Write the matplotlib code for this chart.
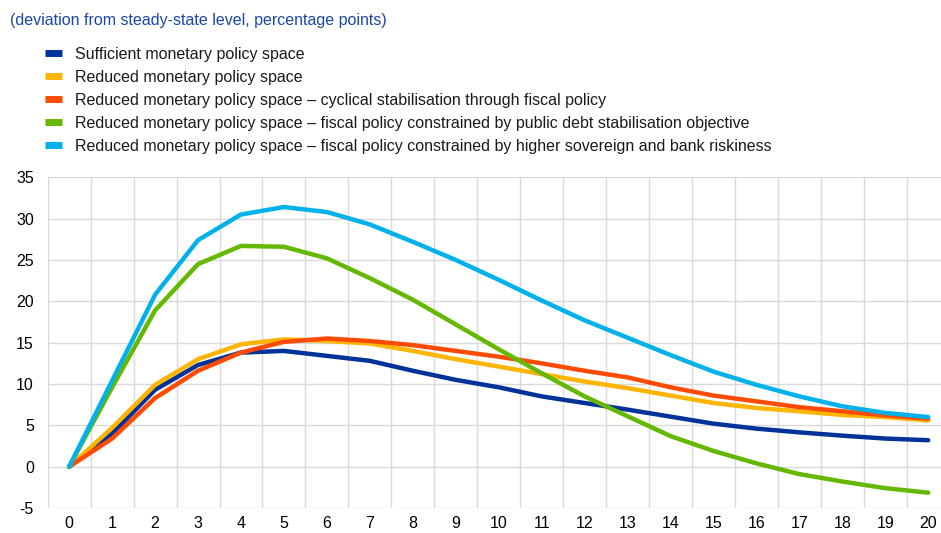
import matplotlib
matplotlib.use("Agg")
import matplotlib.pyplot as plt
from matplotlib.lines import Line2D

plt.rcParams['font.family'] = ['Liberation Sans', 'DejaVu Sans']
plt.rcParams['axes.unicode_minus'] = False

quarters = list(range(21))
x_labels = [str(q) for q in quarters]

sufficient = [0, 4.0, 9.3, 12.3, 13.8, 14.0, 13.4, 12.8, 11.6, 10.5, 9.6,
              8.5, 7.7, 6.9, 6.05, 5.2, 4.6, 4.15, 3.75, 3.4, 3.2]
reduced = [0, 4.7, 9.9, 13.0, 14.8, 15.4, 15.2, 14.9, 14.0, 13.0, 12.1,
           11.2, 10.3, 9.5, 8.6, 7.7, 7.1, 6.7, 6.25, 6.0, 5.6]
cyclical = [0, 3.4, 8.3, 11.6, 13.8, 15.1, 15.5, 15.2, 14.7, 14.0, 13.3,
            12.5, 11.6, 10.8, 9.6, 8.6, 7.9, 7.2, 6.7, 6.2, 5.8]
debt_constrained = [0, 9.6, 18.9, 24.5, 26.7, 26.6, 25.2, 22.8, 20.2, 17.2, 14.2,
                    11.3, 8.5, 6.1, 3.7, 1.9, 0.4, -0.9, -1.8, -2.6, -3.15]
risk_constrained = [0, 10.4, 20.8, 27.4, 30.5, 31.4, 30.8, 29.3, 27.2, 25.0, 22.6,
                    20.1, 17.7, 15.6, 13.5, 11.5, 9.9, 8.5, 7.3, 6.5, 6.0]

series_labels = [
    "Sufficient monetary policy space",
    "Reduced monetary policy space",
    "Reduced monetary policy space \u2013 cyclical stabilisation through fiscal policy",
    "Reduced monetary policy space \u2013 fiscal policy constrained by public debt stabilisation objective",
    "Reduced monetary policy space \u2013 fiscal policy constrained by higher sovereign and bank riskiness",
]
series_values = [sufficient, reduced, cyclical, debt_constrained, risk_constrained]
colors = ["#003299", "#FFB400", "#FF4B00", "#65B800", "#00B1EA"]

FS = 11.5
W, H = 941, 533
fig = plt.figure(figsize=(W / 100, H / 100), dpi=100)
ax = fig.add_axes([47.7 / W, 1 - 508 / H, (949.7 - 47.7) / W, (508 - 177.3) / H])

for vals, c in zip(series_values, colors):
    ax.plot(quarters, vals, color=c, lw=3.2, solid_capstyle='round',
            solid_joinstyle='round', zorder=3)

ax.set_xlim(-0.5, 20.5)
ax.set_ylim(-5, 35)
ax.set_yticks(range(-5, 40, 5))
ax.set_xticks(quarters)
ax.set_xticklabels(x_labels)
ax.set_xticks([q - 0.5 for q in quarters] + [20.5], minor=True)

ax.grid(True, which='major', axis='y', color='#d9d9d9', lw=1, zorder=0)
ax.grid(True, which='minor', axis='x', color='#d9d9d9', lw=1, zorder=0)
ax.grid(False, which='major', axis='x')
for s in ax.spines.values():
    s.set_visible(False)
ax.tick_params(axis='both', which='both', length=0, labelsize=FS, colors='#000000')
ax.tick_params(axis='y', pad=10)
ax.tick_params(axis='x', pad=6)

fig.text(10 / W, 1 - 21 / H, "(deviation from steady-state level, percentage points)",
         color='#1a47a8', fontsize=FS, va='center', ha='left')

handles = [Line2D([0], [0], color=c, lw=5, solid_capstyle='butt') for c in colors]
fig.legend(handles, series_labels, loc='upper left',
           bbox_to_anchor=(45 / W, 1 - 47 / H), frameon=False, fontsize=FS,
           handlelength=1.06, handletextpad=0.8, labelspacing=0.5,
           borderpad=0, borderaxespad=0, labelcolor='#1a1a1a')

fig.savefig("out.png", dpi=100)
